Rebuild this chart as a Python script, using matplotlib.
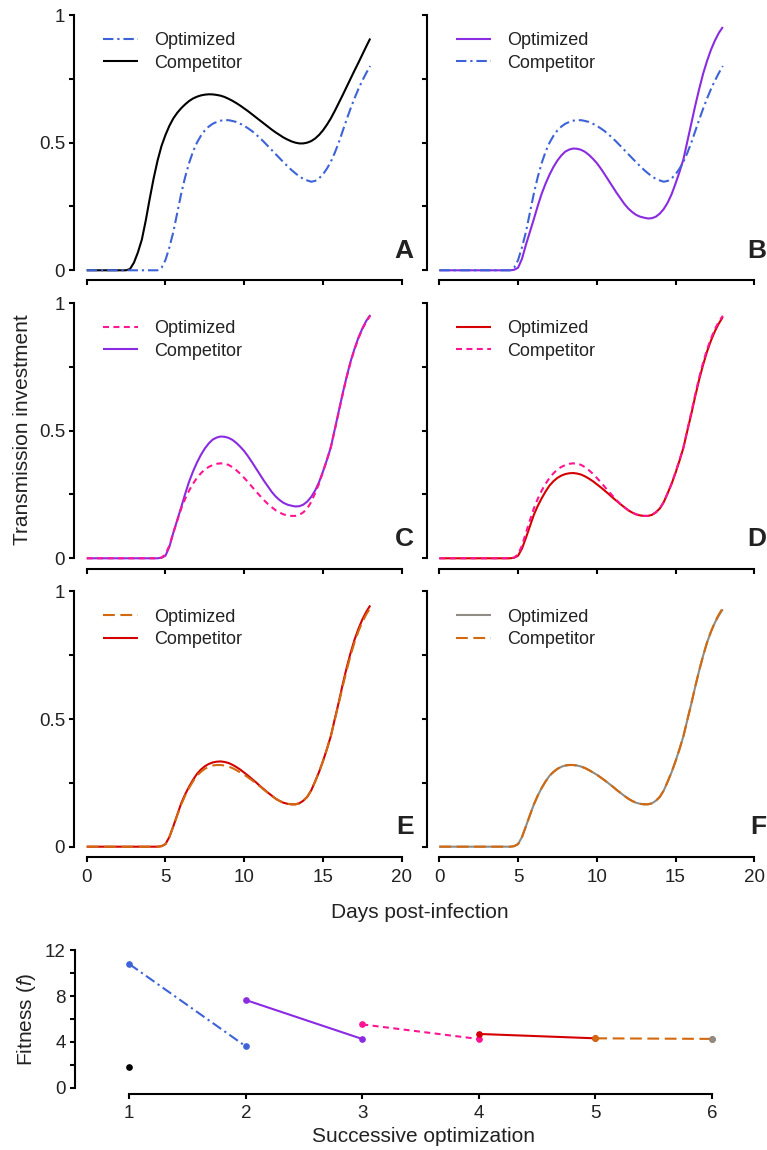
import numpy as np
import matplotlib
matplotlib.use("Agg")
import matplotlib.pyplot as plt

# fonts - Helvetica look-alike, italic f in the fitness label
plt.rcParams['font.family'] = ['Liberation Sans', 'DejaVu Sans']
plt.rcParams['mathtext.fontset'] = 'custom'
plt.rcParams['mathtext.it'] = 'Liberation Sans:italic'
plt.rcParams['mathtext.rm'] = 'Liberation Sans'
plt.rcParams['lines.scale_dashes'] = False

TXT = '#222222'

# days post-infection (grid the curves were read on, every quarter day)
days = np.arange(0, 18.001, 0.25)

# transmission investment curves, one row of 4 values per day
black_curve = [0, 0, 0, 0,                 # 0 - 0.75
               0, 0, 0, 0,                 # 1 - 1.75
               0, 0, 0, 0.005,             # 2 - 2.75
               0.03, 0.07, 0.12, 0.195,    # 3
               0.28, 0.36, 0.43, 0.487,    # 4
               0.53, 0.566, 0.595, 0.617,  # 5
               0.635, 0.65, 0.663, 0.673,  # 6
               0.68, 0.685, 0.688, 0.6895,  # 7
               0.689, 0.687, 0.684, 0.679,  # 8
               0.672, 0.664, 0.655, 0.645,  # 9
               0.634, 0.623, 0.611, 0.599,  # 10
               0.587, 0.575, 0.563, 0.551,  # 11
               0.54, 0.53, 0.52, 0.512,    # 12
               0.505, 0.5, 0.497, 0.497,   # 13
               0.5, 0.506, 0.516, 0.53,    # 14
               0.548, 0.57, 0.595, 0.624,  # 15
               0.655, 0.686, 0.718, 0.75,  # 16
               0.782, 0.813, 0.845, 0.877,  # 17
               0.908]                      # 18
blue_curve = [0, 0, 0, 0,
              0, 0, 0, 0,
              0, 0, 0, 0,
              0, 0, 0, 0,
              0, 0, 0, 0.01,
              0.04, 0.09, 0.15, 0.225,
              0.30, 0.365, 0.42, 0.465,
              0.50, 0.527, 0.548, 0.563,
              0.574, 0.581, 0.586, 0.588,
              0.588, 0.585, 0.581, 0.574,
              0.566, 0.556, 0.545, 0.532,
              0.518, 0.503, 0.487, 0.471,
              0.455, 0.439, 0.423, 0.408,
              0.393, 0.38, 0.368, 0.358,
              0.352, 0.347, 0.35, 0.36,
              0.376, 0.398, 0.425, 0.46,
              0.50, 0.545, 0.59, 0.633,
              0.673, 0.71, 0.743, 0.773,
              0.80]
purple_curve = [0, 0, 0, 0,
                0, 0, 0, 0,
                0, 0, 0, 0,
                0, 0, 0, 0,
                0, 0, 0, 0.002,
                0.01, 0.045, 0.10, 0.15,
                0.20, 0.252, 0.30, 0.34,
                0.375, 0.405, 0.43, 0.45,
                0.465, 0.473, 0.477, 0.476,
                0.472, 0.464, 0.452, 0.437,
                0.42, 0.399, 0.376, 0.352,
                0.328, 0.304, 0.282, 0.26,
                0.242, 0.228, 0.217, 0.21,
                0.206, 0.203, 0.204, 0.21,
                0.222, 0.24, 0.265, 0.298,
                0.34, 0.385, 0.435, 0.505,
                0.575, 0.645, 0.71, 0.77,
                0.82, 0.864, 0.90, 0.93,
                0.953]
pink_curve = [0, 0, 0, 0,
              0, 0, 0, 0,
              0, 0, 0, 0,
              0, 0, 0, 0,
              0, 0, 0, 0.003,
              0.015, 0.05, 0.10, 0.148,
              0.195, 0.233, 0.265, 0.292,
              0.315, 0.333, 0.348, 0.358,
              0.365, 0.37, 0.372, 0.37,
              0.366, 0.357, 0.345, 0.331,
              0.315, 0.298, 0.28, 0.262,
              0.245, 0.228, 0.213, 0.2,
              0.188, 0.179, 0.172, 0.168,
              0.166, 0.166, 0.17, 0.18,
              0.195, 0.22, 0.255, 0.292,
              0.338, 0.385, 0.435, 0.503,
              0.572, 0.642, 0.708, 0.767,
              0.818, 0.861, 0.898, 0.927,
              0.95]
red_curve = [0, 0, 0, 0,
             0, 0, 0, 0,
             0, 0, 0, 0,
             0, 0, 0, 0,
             0, 0, 0, 0.002,
             0.01, 0.038, 0.08, 0.125,
             0.17, 0.205, 0.235, 0.262,
             0.285, 0.302, 0.315, 0.324,
             0.33, 0.333, 0.334, 0.332,
             0.328, 0.321, 0.312, 0.302,
             0.29, 0.278, 0.265, 0.252,
             0.238, 0.225, 0.212, 0.2,
             0.188, 0.179, 0.172, 0.168,
             0.166, 0.166, 0.17, 0.18,
             0.195, 0.22, 0.255, 0.292,
             0.335, 0.382, 0.433, 0.5,
             0.565, 0.635, 0.70, 0.758,
             0.81, 0.853, 0.89, 0.92,
             0.945]
orange_curve = [0, 0, 0, 0,
                0, 0, 0, 0,
                0, 0, 0, 0,
                0, 0, 0, 0,
                0, 0, 0, 0.002,
                0.01, 0.038, 0.08, 0.123,
                0.165, 0.2, 0.23, 0.256,
                0.278, 0.293, 0.305, 0.313,
                0.318, 0.32, 0.32, 0.318,
                0.314, 0.308, 0.30, 0.291,
                0.282, 0.271, 0.26, 0.248,
                0.236, 0.223, 0.211, 0.199,
                0.188, 0.179, 0.172, 0.168,
                0.166, 0.166, 0.17, 0.18,
                0.195, 0.22, 0.255, 0.292,
                0.335, 0.382, 0.433, 0.497,
                0.56, 0.627, 0.69, 0.748,
                0.80, 0.843, 0.88, 0.91,
                0.935]
grey_curve = [0, 0, 0, 0,
              0, 0, 0, 0,
              0, 0, 0, 0,
              0, 0, 0, 0,
              0, 0, 0, 0.002,
              0.01, 0.038, 0.08, 0.123,
              0.165, 0.2, 0.23, 0.256,
              0.278, 0.293, 0.305, 0.313,
              0.318, 0.32, 0.32, 0.318,
              0.314, 0.308, 0.30, 0.291,
              0.282, 0.271, 0.26, 0.248,
              0.236, 0.223, 0.211, 0.199,
              0.188, 0.179, 0.172, 0.168,
              0.166, 0.166, 0.17, 0.18,
              0.195, 0.22, 0.255, 0.292,
              0.335, 0.382, 0.433, 0.497,
              0.56, 0.627, 0.69, 0.748,
              0.80, 0.842, 0.878, 0.906,
              0.93]

# fitness of each optimization round (start vs its competitor, end vs the next one)
opt_round = [1, 2, 3, 4, 5]
fit_start = [10.78, 7.65, 5.53, 4.70, 4.32]
fit_end = [3.62, 4.26, 4.26, 4.32, 4.27]
black_fit = 1.86
grey_fit = 4.27

curves = {'black': black_curve, 'blue': blue_curve, 'purple': purple_curve, 'pink': pink_curve,
          'red': red_curve, 'orange': orange_curve, 'grey': grey_curve}

# colour and dash pattern of each strategy
styles = {
    'black': dict(color='#000000'),
    'blue': dict(color='#3E63D8', dashes=(7.5, 2.8, 1.6, 2.8)),
    'purple': dict(color='#8A2BE2'),
    'pink': dict(color='#FF1493', dashes=(4.3, 3.2)),
    'red': dict(color='#D40000'),
    'orange': dict(color='#D2690F', dashes=(8.5, 4.0)),
    'grey': dict(color='#8E8C84'),
}

# panel letter, optimized strategy, competitor strategy
panels = [('A', 'blue', 'black'), ('B', 'purple', 'blue'),
          ('C', 'pink', 'purple'), ('D', 'red', 'pink'),
          ('E', 'orange', 'red'), ('F', 'grey', 'orange')]

W, H = 767, 1150
fig = plt.figure(figsize=(W / 100, H / 100), dpi=100)

col_left = [74.1, 426.7]
col_w = 340.2
row_bottom = [280.5, 568.5, 856.9]
row_h = 275.7


def style_axes(ax):
    for s in ['top', 'right']:
        ax.spines[s].set_visible(False)
    for s in ['left', 'bottom']:
        ax.spines[s].set_linewidth(1.5)
        ax.spines[s].set_color('black')
    ax.tick_params(direction='out', length=3.5, width=1.5, color='black',
                   labelsize=13.5, labelcolor=TXT, pad=3)
    ax.tick_params(axis='x', pad=5)


for i, (letter, opt, comp) in enumerate(panels):
    row, col = i // 2, i % 2
    ax = fig.add_axes([col_left[col] / W, 1 - row_bottom[row] / H, col_w / W, row_h / H])
    style_axes(ax)
    ax.set_xlim(-0.8, 20.8)
    ax.set_ylim(-0.04, 1.04)
    ax.spines['left'].set_bounds(0, 1)
    ax.spines['bottom'].set_bounds(0, 20)
    ax.set_xticks([0, 5, 10, 15, 20])
    ax.set_yticks([0, 0.25, 0.5, 0.75, 1])
    if col == 0:
        ax.set_yticklabels(['0', '', '0.5', '', '1'])
    else:
        ax.set_yticklabels([])
    if row == 2:
        ax.set_xticklabels(['0', '5', '10', '15', '20'])
    else:
        ax.set_xticklabels([])

    lines = {}
    # solid lines first, dashed ones on top
    order = sorted([opt, comp], key=lambda k: 'dashes' in styles[k])
    for key in order:
        ln, = ax.plot(days, curves[key], lw=1.5, solid_capstyle='butt',
                      dash_capstyle='butt', **styles[key])
        lines[key] = ln
    ax.legend([lines[opt], lines[comp]], ['Optimized', 'Competitor'], loc='upper left',
              bbox_to_anchor=(0.085, 0.90), frameon=False, fontsize=13, borderpad=0,
              borderaxespad=0, handlelength=1.94, handletextpad=0.9, labelspacing=0.3,
              labelcolor=TXT)
    ax.text(20.75, 0.05, letter, ha='right', va='baseline', fontsize=19,
            fontweight='bold', color=TXT)

fig.text(23 / W, 1 - 430 / H, 'Transmission investment', rotation=90, ha='center',
         va='center', fontsize=15, color=TXT)
fig.text(420 / W, 1 - 913 / H, 'Days post-infection', ha='center', va='center',
         fontsize=15, color=TXT)

# fitness panel
axf = fig.add_axes([75 / W, 1 - 1093.5 / H, (6.4 - 0.534) * 116.5 / W, 149 / H])
style_axes(axf)
axf.set_xlim(0.534, 6.4)
axf.set_ylim(-0.48, 12.48)
axf.spines['left'].set_bounds(0, 12)
axf.spines['bottom'].set_bounds(1, 6)
axf.set_xticks([1, 2, 3, 4, 5, 6])
axf.set_yticks([0, 2, 4, 6, 8, 10, 12])
axf.set_yticklabels(['0', '', '4', '', '8', '', '12'])

seg_keys = ['blue', 'purple', 'pink', 'red', 'orange']
for k, x0, y0, y1 in zip(seg_keys, opt_round, fit_start, fit_end):
    axf.plot([x0, x0 + 1], [y0, y1], lw=1.5, marker='o', markersize=3.8,
             dash_capstyle='butt', **styles[k])
axf.plot([6], [grey_fit], 'o', markersize=3.8, color=styles['grey']['color'])
axf.plot([1], [black_fit], 'o', markersize=3.8, color='black')

fig.text(27 / W, 1 - 1019 / H, 'Fitness ($\\mathit{f}$)', rotation=90, ha='center',
         va='center', fontsize=15, color=TXT)
fig.text(424 / W, 1 - 1137 / H, 'Successive optimization', ha='center', va='center',
         fontsize=15, color=TXT)

fig.savefig('out.png', dpi=100)
